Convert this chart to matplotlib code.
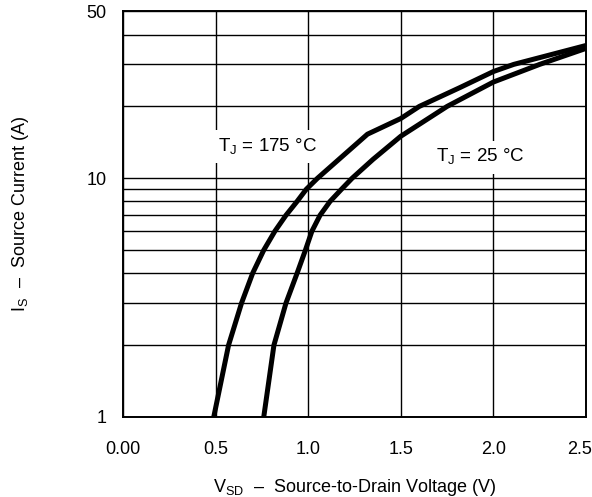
import matplotlib
matplotlib.use("Agg")
from matplotlib import pyplot as plt
from matplotlib.transforms import ScaledTranslation

plt.rcParams["font.family"] = ["Liberation Sans", "DejaVu Sans"]
plt.rcParams["mathtext.fontset"] = "custom"
plt.rcParams["mathtext.rm"] = "Liberation Sans"

# source-drain diode forward characteristic
vsd_175 = [0.49, 0.57, 0.64, 0.70, 0.76, 0.82, 0.88, 0.94, 0.99, 1.05, 1.32, 1.50, 1.60, 1.82, 2.00, 2.11, 2.50]
is_175 = [1, 2, 3, 4, 5, 6, 7, 8, 9, 10, 15.3, 17.8, 20, 24, 28, 30, 36]

vsd_25 = [0.76, 0.815, 0.88, 0.94, 0.985, 1.02, 1.064, 1.118, 1.18, 1.237, 1.35, 1.50, 1.75, 2.00, 2.25, 2.50]
is_25 = [1, 2, 3, 4, 5, 6, 7, 8, 9, 10, 12, 15, 20, 25.3, 30, 35]

x_ticks = [0.0, 0.5, 1.0, 1.5, 2.0, 2.5]
x_tick_labels = ["0.00", "0.5", "1.0", "1.5", "2.0", "2.5"]
y_ticks = [1, 10, 50]
y_tick_labels = ["1", "10", "50"]
y_grid = [2, 3, 4, 5, 6, 7, 8, 9, 20, 30, 40]

fig = plt.figure(figsize=(5.92, 4.97), dpi=100)
ax = fig.add_axes([0.2078, 0.161, 0.782, 0.816])

ax.plot(vsd_175, is_175, color="black", lw=3.6, solid_joinstyle="round", zorder=5)
ax.plot(vsd_25, is_25, color="black", lw=3.6, solid_joinstyle="round", zorder=5)

ax.set_yscale("log")
ax.set_xlim(0, 2.5)
ax.set_ylim(1, 50)

ax.set_xticks(x_ticks)
ax.set_xticklabels(x_tick_labels)
ax.set_yticks(y_ticks)
ax.set_yticklabels(y_tick_labels)
ax.set_yticks(y_grid, minor=True)
ax.yaxis.set_minor_formatter(plt.NullFormatter())
ax.tick_params(axis="both", which="both", length=0, labelsize=13)
ax.tick_params(axis="x", pad=17)
ax.tick_params(axis="y", pad=12)

# last x label sits at the figure edge, nudge it in a bit
last = ax.get_xticklabels()[-1]
last.set_transform(last.get_transform() + ScaledTranslation(-6 / 100, 0, fig.dpi_scale_trans))

ax.grid(True, which="both", axis="y", color="black", lw=1.0)
ax.grid(True, which="major", axis="x", color="black", lw=1.0)
ax.set_axisbelow(True)
for s in ax.spines.values():
    s.set_linewidth(1.4)
    s.set_zorder(6)

box = dict(boxstyle="square,pad=0.35", facecolor="white", edgecolor="none")
ax.text(0.515, 13.6, r"T$_{\mathregular{J}}$ = 175 °C", fontsize=13.5, ha="left", va="center",
        bbox=box, zorder=3)
ax.text(1.69, 12.25, r"T$_{\mathregular{J}}$ = 25 °C", fontsize=13.5, ha="left", va="center",
        bbox=box, zorder=3)

ax.set_xlabel(r"V$_{\mathregular{SD}}$  –  Source-to-Drain Voltage (V)", fontsize=13, labelpad=14)
ax.set_ylabel(r"I$_{\mathregular{S}}$  –  Source Current (A)", fontsize=13, labelpad=40)

fig.savefig("out.png", dpi=100)
